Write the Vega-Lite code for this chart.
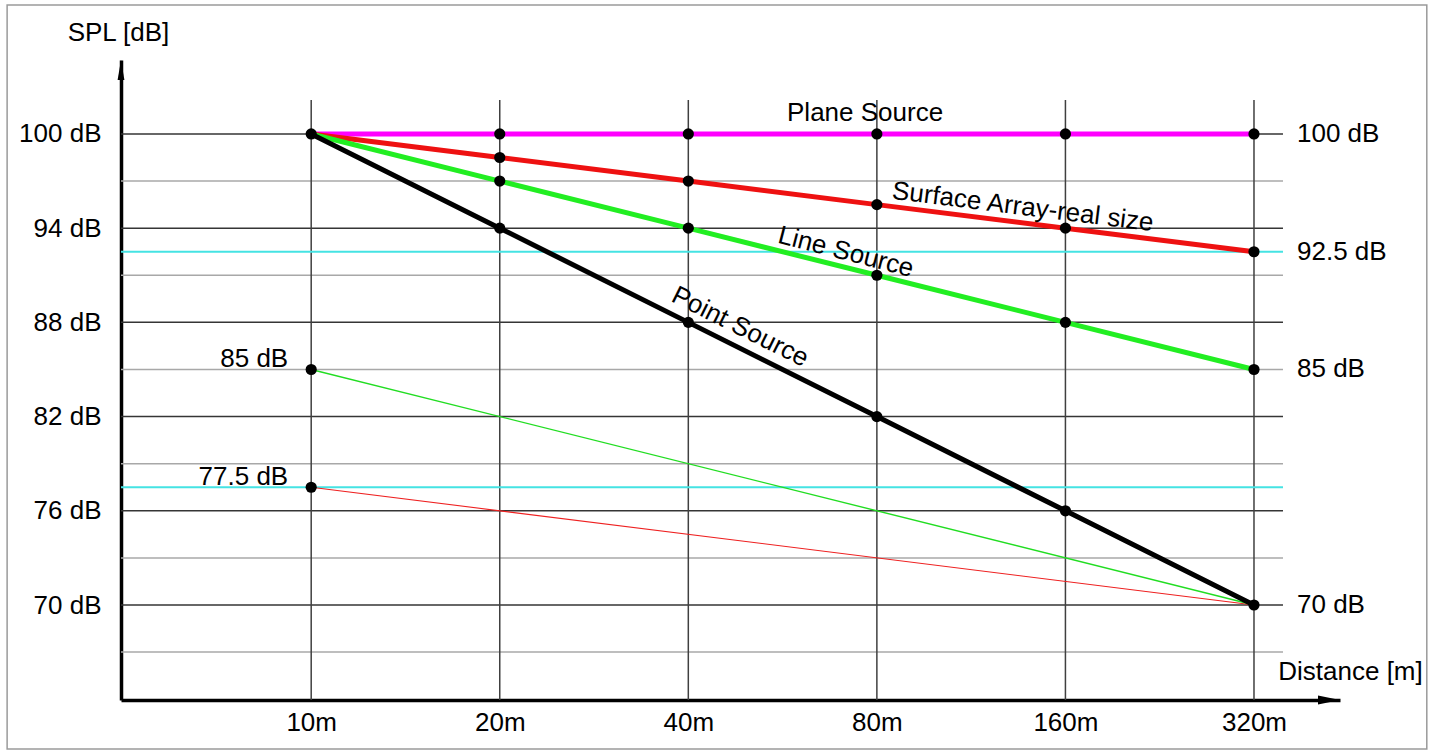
{
  "$schema": "https://vega.github.io/schema/vega-lite/v6.json",
  "width": 1219,
  "height": 640,
  "autosize": {"type": "none"},
  "padding": {"left": 121, "top": 60, "right": 96, "bottom": 53},
  "background": "white",
  "config": {
    "view": {"stroke": null},
    "font": "Liberation Sans",
    "text": {"font": "Liberation Sans", "fontSize": 26, "color": "black"}
  },
  "resolve": {"scale": {"color": "independent", "strokeWidth": "independent"}},
  "datasets": {
    "hgrid": [
      {"spl": 100, "k": "major"}, {"spl": 97, "k": "minor"},
      {"spl": 94, "k": "major"}, {"spl": 91, "k": "minor"},
      {"spl": 88, "k": "major"}, {"spl": 85, "k": "minor"},
      {"spl": 82, "k": "major"}, {"spl": 79, "k": "minor"},
      {"spl": 76, "k": "major"}, {"spl": 73, "k": "minor"},
      {"spl": 70, "k": "major"}, {"spl": 67, "k": "minor"}
    ],
    "vgrid": [{"d": 10}, {"d": 20}, {"d": 40}, {"d": 80}, {"d": 160}, {"d": 320}],
    "cyan": [{"spl": 92.5}, {"spl": 77.5}],
    "lines": [
      {"s": "thinred", "d": 10, "spl": 77.5}, {"s": "thinred", "d": 320, "spl": 70},
      {"s": "thingreen", "d": 10, "spl": 85}, {"s": "thingreen", "d": 320, "spl": 70},
      {"s": "Plane Source", "d": 10, "spl": 100}, {"s": "Plane Source", "d": 20, "spl": 100},
      {"s": "Plane Source", "d": 40, "spl": 100}, {"s": "Plane Source", "d": 80, "spl": 100},
      {"s": "Plane Source", "d": 160, "spl": 100}, {"s": "Plane Source", "d": 320, "spl": 100},
      {"s": "Surface Array-real size", "d": 10, "spl": 100}, {"s": "Surface Array-real size", "d": 20, "spl": 98.5},
      {"s": "Surface Array-real size", "d": 40, "spl": 97}, {"s": "Surface Array-real size", "d": 80, "spl": 95.5},
      {"s": "Surface Array-real size", "d": 160, "spl": 94}, {"s": "Surface Array-real size", "d": 320, "spl": 92.5},
      {"s": "Line Source", "d": 10, "spl": 100}, {"s": "Line Source", "d": 20, "spl": 97},
      {"s": "Line Source", "d": 40, "spl": 94}, {"s": "Line Source", "d": 80, "spl": 91},
      {"s": "Line Source", "d": 160, "spl": 88}, {"s": "Line Source", "d": 320, "spl": 85},
      {"s": "Point Source", "d": 10, "spl": 100}, {"s": "Point Source", "d": 20, "spl": 94},
      {"s": "Point Source", "d": 40, "spl": 88}, {"s": "Point Source", "d": 80, "spl": 82},
      {"s": "Point Source", "d": 160, "spl": 76}, {"s": "Point Source", "d": 320, "spl": 70}
    ],
    "points": [
      {"d": 10, "spl": 100}, {"d": 20, "spl": 100}, {"d": 40, "spl": 100}, {"d": 80, "spl": 100}, {"d": 160, "spl": 100}, {"d": 320, "spl": 100},
      {"d": 20, "spl": 98.5}, {"d": 40, "spl": 97}, {"d": 80, "spl": 95.5}, {"d": 160, "spl": 94}, {"d": 320, "spl": 92.5},
      {"d": 20, "spl": 97}, {"d": 40, "spl": 94}, {"d": 80, "spl": 91}, {"d": 160, "spl": 88}, {"d": 320, "spl": 85},
      {"d": 20, "spl": 94}, {"d": 40, "spl": 88}, {"d": 80, "spl": 82}, {"d": 160, "spl": 76}, {"d": 320, "spl": 70},
      {"d": 10, "spl": 85}, {"d": 10, "spl": 77.5}
    ],
    "rightLabels": [
      {"t": "100 dB", "spl": 100}, {"t": "92.5 dB", "spl": 92.5}, {"t": "85 dB", "spl": 85}, {"t": "70 dB", "spl": 70}
    ],
    "leftLabels": [
      {"t": "85 dB", "spl": 85}, {"t": "77.5 dB", "spl": 77.5}
    ]
  },
  "layer": [
    {
      "data": {"values": [{}]},
      "mark": {"type": "rect", "fill": null, "stroke": "#9a9a9a", "strokeWidth": 1.5},
      "encoding": {
        "x": {"datum": 3.27, "type": "quantitative"},
        "x2": {"datum": 604},
        "y": {"datum": 108.22, "type": "quantitative"},
        "y2": {"datum": 60.83}
      }
    },
    {
      "data": {"name": "hgrid"},
      "mark": {"type": "rule", "strokeWidth": 1.5},
      "encoding": {
        "y": {
          "field": "spl", "type": "quantitative",
          "scale": {"domain": [63.95, 104.71], "nice": false, "zero": false},
          "axis": {
            "values": [70, 76, 82, 88, 94, 100],
            "labelExpr": "datum.value + ' dB'",
            "grid": false, "ticks": false,
            "domainColor": "black", "domainWidth": 3.5,
            "labelFont": "Liberation Sans", "labelFontSize": 26, "labelColor": "black",
            "labelPadding": 20,
            "title": "SPL [dB]", "titleAngle": 0, "titleX": -3, "titleY": -28,
            "titleAlign": "center", "titleBaseline": "middle",
            "titleFont": "Liberation Sans", "titleFontSize": 26, "titleFontWeight": "normal", "titleColor": "black"
          }
        },
        "x": {"datum": 4.97, "type": "quantitative"},
        "x2": {"datum": 356},
        "color": {"field": "k", "type": "nominal", "scale": {"domain": ["major", "minor"], "range": ["#353535", "#a8a8a8"]}, "legend": null}
      }
    },
    {
      "data": {"name": "vgrid"},
      "mark": {"type": "rule", "strokeWidth": 1.5, "color": "#404040"},
      "encoding": {
        "x": {
          "field": "d", "type": "quantitative",
          "scale": {"type": "log", "base": 2, "domain": [4.97, 439], "nice": false},
          "axis": {
            "values": [10, 20, 40, 80, 160, 320],
            "labelExpr": "datum.value + 'm'",
            "grid": false, "ticks": false,
            "domainColor": "black", "domainWidth": 3.5,
            "labelFont": "Liberation Sans", "labelFontSize": 26, "labelColor": "black",
            "labelPadding": 9, "labelFlush": false, "labelOverlap": false,
            "title": "Distance [m]", "titleAngle": 0, "titleX": 1229, "titleY": -29,
            "titleAlign": "center", "titleBaseline": "middle",
            "titleFont": "Liberation Sans", "titleFontSize": 26, "titleFontWeight": "normal", "titleColor": "black"
          }
        },
        "y": {"datum": 102.17, "type": "quantitative"},
        "y2": {"datum": 63.95}
      }
    },
    {
      "data": {"name": "cyan"},
      "mark": {"type": "rule", "strokeWidth": 2, "color": "#45e3e3"},
      "encoding": {
        "y": {"field": "spl", "type": "quantitative"},
        "x": {"datum": 4.97, "type": "quantitative"},
        "x2": {"datum": 356}
      }
    },
    {
      "data": {"name": "lines"},
      "mark": {"type": "line"},
      "encoding": {
        "x": {"field": "d", "type": "quantitative"},
        "y": {"field": "spl", "type": "quantitative"},
        "color": {
          "field": "s", "type": "nominal", "legend": null,
          "scale": {
            "domain": ["thinred", "thingreen", "Plane Source", "Surface Array-real size", "Line Source", "Point Source"],
            "range": ["#ee2020", "#22dd22", "#ff00ff", "#ee1111", "#22ee22", "#000000"]
          }
        },
        "strokeWidth": {
          "field": "s", "type": "nominal", "legend": null,
          "scale": {
            "type": "ordinal",
            "domain": ["thinred", "thingreen", "Plane Source", "Surface Array-real size", "Line Source", "Point Source"],
            "range": [1.1, 1.4, 5, 5, 5, 5]
          }
        }
      }
    },
    {
      "data": {"name": "points"},
      "mark": {"type": "point", "filled": true, "color": "black", "size": 125, "opacity": 1},
      "encoding": {
        "x": {"field": "d", "type": "quantitative"},
        "y": {"field": "spl", "type": "quantitative"}
      }
    },
    {
      "data": {"values": [{}]},
      "mark": {"type": "point", "filled": true, "color": "black", "opacity": 1, "size": 1600, "shape": "M0,0L0.17,1L-0.17,1Z", "strokeWidth": 0},
      "encoding": {
        "x": {"datum": 4.97, "type": "quantitative"},
        "y": {"datum": 104.71, "type": "quantitative"}
      }
    },
    {
      "data": {"values": [{}]},
      "mark": {"type": "point", "filled": true, "color": "black", "opacity": 1, "size": 1936, "shape": "M0,0L-1,-0.2L-1,0.2Z", "strokeWidth": 0},
      "encoding": {
        "x": {"datum": 439, "type": "quantitative"},
        "y": {"datum": 63.95, "type": "quantitative"}
      }
    },
    {
      "data": {"name": "rightLabels"},
      "mark": {"type": "text", "align": "left", "baseline": "middle", "dx": 43},
      "encoding": {
        "x": {"datum": 320, "type": "quantitative"},
        "y": {"field": "spl", "type": "quantitative"},
        "text": {"field": "t"}
      }
    },
    {
      "data": {"name": "leftLabels"},
      "mark": {"type": "text", "align": "right", "baseline": "middle", "dx": -23, "dy": -10},
      "encoding": {
        "x": {"datum": 10, "type": "quantitative"},
        "y": {"field": "spl", "type": "quantitative"},
        "text": {"field": "t"}
      }
    },
    {
      "data": {"values": [{"t": "Plane Source", "d": 76.6, "spl": 101.34}]},
      "mark": {"type": "text", "align": "center", "baseline": "middle"},
      "encoding": {
        "x": {"field": "d", "type": "quantitative"},
        "y": {"field": "spl", "type": "quantitative"},
        "text": {"field": "t"}
      }
    },
    {
      "data": {"values": [{"t": "Surface Array-real size", "d": 136.8, "spl": 95.35}]},
      "mark": {"type": "text", "align": "center", "baseline": "middle", "angle": 7.1},
      "encoding": {
        "x": {"field": "d", "type": "quantitative"},
        "y": {"field": "spl", "type": "quantitative"},
        "text": {"field": "t"}
      }
    },
    {
      "data": {"values": [{"t": "Line Source", "d": 71.4, "spl": 92.48}]},
      "mark": {"type": "text", "align": "center", "baseline": "middle", "angle": 14.5},
      "encoding": {
        "x": {"field": "d", "type": "quantitative"},
        "y": {"field": "spl", "type": "quantitative"},
        "text": {"field": "t"}
      }
    },
    {
      "data": {"values": [{"t": "Point Source", "d": 48.4, "spl": 87.71}]},
      "mark": {"type": "text", "align": "center", "baseline": "middle", "angle": 26.5},
      "encoding": {
        "x": {"field": "d", "type": "quantitative"},
        "y": {"field": "spl", "type": "quantitative"},
        "text": {"field": "t"}
      }
    }
  ]
}
